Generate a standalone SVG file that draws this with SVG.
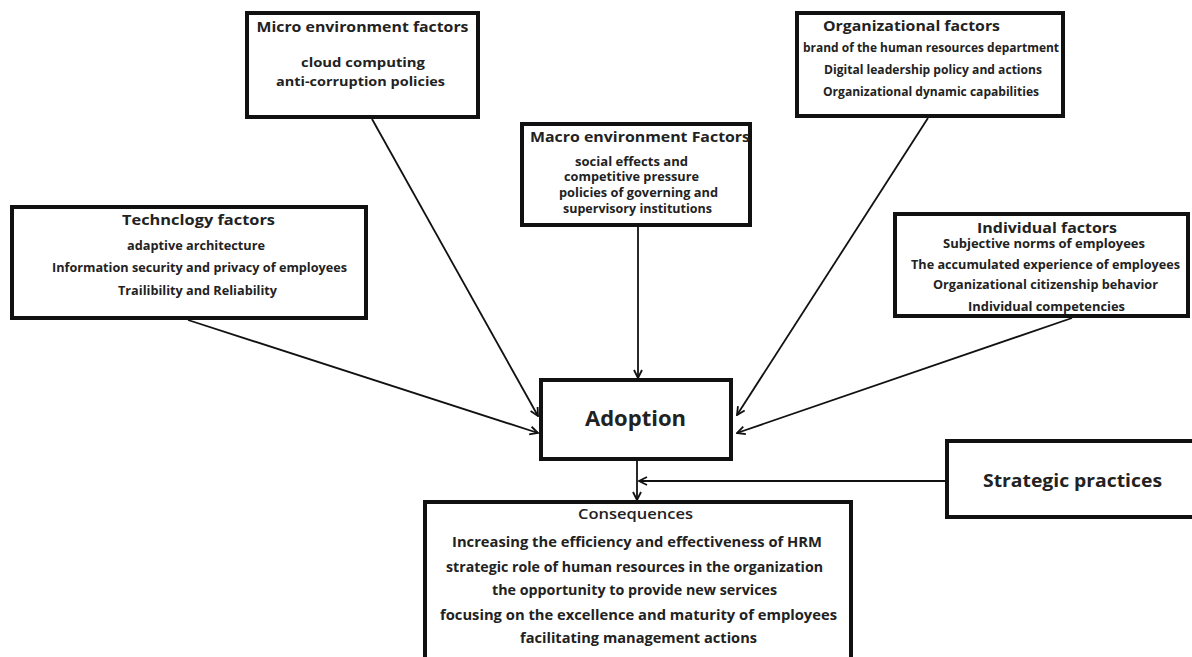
<svg xmlns="http://www.w3.org/2000/svg" width="1192" height="657" viewBox="0 0 1192 657">
<defs>
<style>
.box{fill:#fff;stroke:#111;stroke-width:4}
.t{font-family:"Open Sans","Liberation Sans",sans-serif;font-weight:700;fill:#222;text-anchor:middle}
.h{font-size:15px}
.s{font-size:12.5px}
.big{font-size:21px}
.c{font-size:14px}
.con{stroke:#111;stroke-width:1.8;fill:none;marker-end:url(#arr)}
</style>
<marker id="arr" viewBox="0 0 10 10" refX="9" refY="5" markerWidth="10" markerHeight="10" markerUnits="userSpaceOnUse" orient="auto">
<path d="M1,1 L9,5 L1,9" fill="none" stroke="#111" stroke-width="1.8"/>
</marker>
</defs>
<rect width="1192" height="657" fill="#fff"/>
<g id="connectors">
<line class="con" x1="372" y1="119" x2="538" y2="416"/>
<line class="con" x1="188" y1="320" x2="538" y2="433"/>
<line class="con" x1="638" y1="227" x2="638" y2="378"/>
<line class="con" x1="928" y1="118" x2="737" y2="415"/>
<line class="con" x1="1072" y1="318" x2="737" y2="433"/>
<line class="con" x1="637" y1="461" x2="637" y2="500"/>
<line class="con" x1="945" y1="481" x2="639" y2="481"/>
</g>
<g id="micro">
<rect class="box" x="247" y="13" width="231" height="104"/>
<text class="t h" x="362.5" y="32" textLength="212" lengthAdjust="spacingAndGlyphs">Micro environment factors</text>
<text class="t s" x="363" y="67" textLength="124" lengthAdjust="spacingAndGlyphs">cloud computing</text>
<text class="t s" x="360.5" y="86" textLength="169" lengthAdjust="spacingAndGlyphs">anti-corruption policies</text>
</g>
<g id="organizational">
<rect class="box" x="797" y="13" width="266" height="103"/>
<text class="t h" x="911.5" y="31" textLength="177" lengthAdjust="spacingAndGlyphs">Organizational factors</text>
<text class="t s" x="931" y="52" textLength="256" lengthAdjust="spacingAndGlyphs">brand of the human resources department</text>
<text class="t s" x="933" y="74" textLength="218" lengthAdjust="spacingAndGlyphs">Digital leadership policy and actions</text>
<text class="t s" x="931" y="96" textLength="216" lengthAdjust="spacingAndGlyphs">Organizational dynamic capabilities</text>
</g>
<g id="macro">
<rect class="box" x="522" y="124" width="228" height="101"/>
<text class="t h" x="640" y="142" textLength="220" lengthAdjust="spacingAndGlyphs">Macro environment Factors</text>
<text class="t s" x="631.5" y="166" textLength="113" lengthAdjust="spacingAndGlyphs">social effects and</text>
<text class="t s" x="631.5" y="181" textLength="135" lengthAdjust="spacingAndGlyphs">competitive pressure</text>
<text class="t s" x="638.5" y="197" textLength="159" lengthAdjust="spacingAndGlyphs">policies of governing and</text>
<text class="t s" x="637.5" y="213" textLength="149" lengthAdjust="spacingAndGlyphs">supervisory institutions</text>
</g>
<g id="technology">
<rect class="box" x="12" y="207" width="354" height="111"/>
<text class="t h" x="198.5" y="225" textLength="153" lengthAdjust="spacingAndGlyphs">Technclogy factors</text>
<text class="t s" x="196" y="250" textLength="138" lengthAdjust="spacingAndGlyphs">adaptive architecture</text>
<text class="t s" x="199.5" y="272" textLength="295" lengthAdjust="spacingAndGlyphs">Information security and privacy of employees</text>
<text class="t s" x="197.5" y="295" textLength="159" lengthAdjust="spacingAndGlyphs">Trailibility and Reliability</text>
</g>
<g id="individual">
<rect class="box" x="895" y="214" width="293" height="102"/>
<text class="t h" x="1047" y="233" textLength="140" lengthAdjust="spacingAndGlyphs">Individual factors</text>
<text class="t s" x="1044" y="248" textLength="202" lengthAdjust="spacingAndGlyphs">Subjective norms of employees</text>
<text class="t s" x="1045.5" y="269" textLength="269" lengthAdjust="spacingAndGlyphs">The accumulated experience of employees</text>
<text class="t s" x="1045.5" y="289" textLength="225" lengthAdjust="spacingAndGlyphs">Organizational citizenship behavior</text>
<text class="t s" x="1046.5" y="311" textLength="157" lengthAdjust="spacingAndGlyphs">Individual competencies</text>
</g>
<g id="adoption">
<rect class="box" x="541" y="380" width="190" height="79"/>
<text class="t big" x="635.5" y="426" textLength="101" lengthAdjust="spacingAndGlyphs">Adoption</text>
</g>
<g id="strategic">
<rect class="box" x="947" y="441" width="260" height="76"/>
<text class="t" style="font-size:18px" x="1072.5" y="487" textLength="179" lengthAdjust="spacingAndGlyphs">Strategic practices</text>
</g>
<g id="consequences">
<rect class="box" x="425" y="502" width="426" height="170"/>
<text class="t c" style="font-weight:600" x="635.5" y="519" textLength="115" lengthAdjust="spacingAndGlyphs">Consequences</text>
<text class="t c" x="637" y="547" textLength="370" lengthAdjust="spacingAndGlyphs">Increasing the efficiency and effectiveness of HRM</text>
<text class="t c" x="634.5" y="572" textLength="377" lengthAdjust="spacingAndGlyphs">strategic role of human resources in the organization</text>
<text class="t c" x="634.5" y="595" textLength="285" lengthAdjust="spacingAndGlyphs">the opportunity to provide new services</text>
<text class="t c" x="638.5" y="620" textLength="397" lengthAdjust="spacingAndGlyphs">focusing on the excellence and maturity of employees</text>
<text class="t c" x="638.5" y="643" textLength="237" lengthAdjust="spacingAndGlyphs">facilitating management actions</text>
</g>
</svg>
